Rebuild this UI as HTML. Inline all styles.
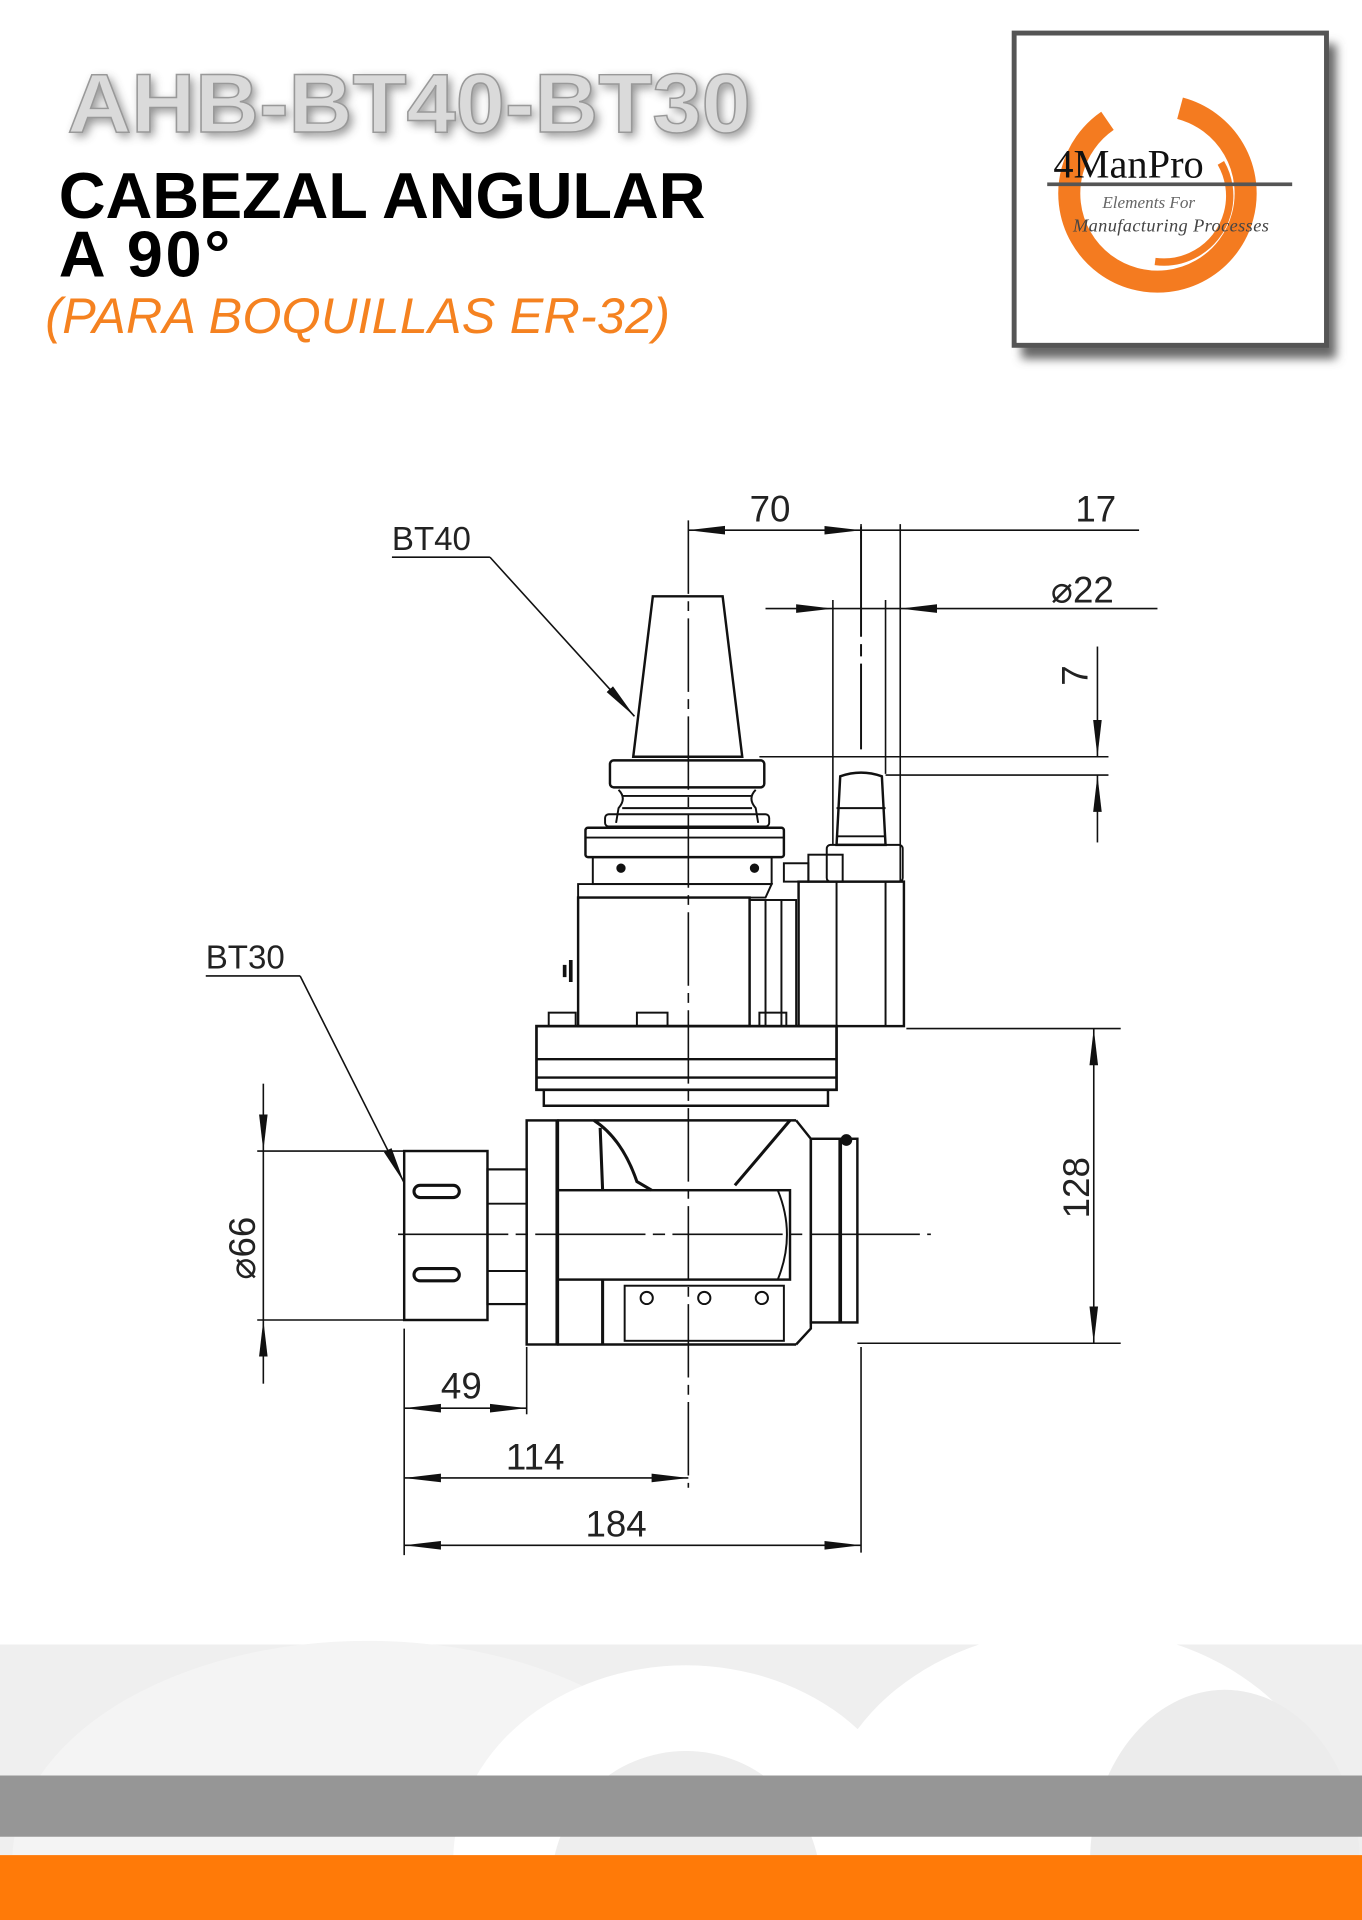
<!DOCTYPE html>
<html><head><meta charset="utf-8"><style>
html,body{margin:0;padding:0;background:#fff;width:1362px;height:1920px;overflow:hidden;}
svg{display:block;}
</style></head><body>
<svg width="1362" height="1920" viewBox="0 0 1112 1568" preserveAspectRatio="none" xmlns="http://www.w3.org/2000/svg">
<defs>
<marker id="b" viewBox="0 0 30 10" refX="30" refY="5" markerWidth="30" markerHeight="10" markerUnits="userSpaceOnUse" orient="auto-start-reverse"><path d="M0,1.5 L30,5 L0,8.5 z" fill="#111"/></marker>
<filter id="sh" x="-10%" y="-10%" width="130%" height="130%"><feGaussianBlur stdDeviation="4"/></filter>
</defs>
<rect width="1112" height="1568" fill="#fff"/>
<text x="58" y="111" font-family="Liberation Sans" font-weight="bold" font-size="68" textLength="558" lengthAdjust="spacingAndGlyphs" fill="#444" opacity="0.6" filter="url(#sh)">AHB-BT40-BT30</text>
<text x="55" y="108" font-family="Liberation Sans" font-weight="bold" font-size="68" textLength="558" lengthAdjust="spacingAndGlyphs" fill="#dadada" stroke="#999" stroke-width="1.2">AHB-BT40-BT30</text>
<text x="48" y="178" font-family="Liberation Sans" font-weight="bold" font-size="53" textLength="528" fill="#000">CABEZAL ANGULAR</text>
<text x="48" y="226" font-family="Liberation Sans" font-weight="bold" font-size="53" textLength="140" fill="#000">A 90°</text>
<text x="37" y="272" font-family="Liberation Sans" font-style="italic" font-size="41" textLength="510" fill="#f58220">(PARA BOQUILLAS ER-32)</text>
<rect x="834" y="36" width="257" height="257" fill="#666" filter="url(#sh)"/>
<rect x="828" y="27" width="255" height="255" fill="#fff" stroke="#555" stroke-width="4"/>
<circle cx="945" cy="158" r="72" fill="none" stroke="#f47b20" stroke-width="18" stroke-dasharray="390 62" transform="rotate(-75 945 158)"/>
<circle cx="950" cy="160" r="54" fill="none" stroke="#f47b20" stroke-width="6" stroke-dasharray="120 300" transform="rotate(-30 950 160)"/>
<text x="860" y="145" font-family="Liberation Serif" font-size="33" fill="#111">4ManPro</text>
<rect x="855" y="149" width="200" height="3" fill="#555"/>
<text x="900" y="170" font-family="Liberation Serif" font-style="italic" font-size="14" fill="#666">Elements For</text>
<text x="876" y="189" font-family="Liberation Serif" font-style="italic" font-size="15" fill="#444" textLength="160">Manufacturing Processes</text>
<g fill="none" stroke="#111" stroke-width="1.6">
<line x1="562" y1="425" x2="562" y2="1215" stroke-dasharray="60 6 8 6" stroke-width="1.3"/>
<line x1="325" y1="1008" x2="760" y2="1008" stroke-dasharray="90 6 10 6" stroke-width="1.3"/>
<line x1="703" y1="430" x2="703" y2="612" stroke-dasharray="90 6 10 6"/>
<path d="M533,487 L590,487 L606,618 L517,618 Z" stroke-width="2"/>
<rect x="498" y="621" width="126" height="22" rx="3" stroke-width="2"/>
<path d="M505,645 Q512,652 505,660 L503,672 M617,645 Q610,652 617,660 L619,672 M508,650 H614 M508,660 H614" />
<rect x="494" y="665" width="134" height="10" rx="3"/>
<rect x="478" y="676" width="162" height="24" rx="2" stroke-width="2"/>
<line x1="478" y1="684" x2="640" y2="684"/>
<rect x="484" y="700" width="146" height="22"/>
<circle cx="507" cy="709" r="3" fill="#111"/><circle cx="616" cy="709" r="3" fill="#111"/>
<path d="M472,722 H630 L625,733 H472 Z"/>
<rect x="472" y="733" width="140" height="105" stroke-width="2"/>
<path d="M461,788 v10 M466,784 v18" stroke-width="3"/>
<rect x="612" y="735" width="38" height="103"/>
<line x1="625" y1="735" x2="625" y2="838"/><line x1="638" y1="735" x2="638" y2="838"/>
<rect x="652" y="720" width="86" height="118" stroke-width="2"/>
<line x1="683" y1="720" x2="683" y2="838"/><line x1="723" y1="720" x2="723" y2="838"/>
<rect x="640" y="705" width="20" height="15"/>
<rect x="660" y="698" width="28" height="22"/>
<path d="M683,690 L686,634 Q703,628 720,634 L723,690 Z" stroke-width="2"/>
<line x1="683" y1="660" x2="723" y2="660"/><line x1="683" y1="683" x2="723" y2="683"/>
<rect x="675" y="690" width="62" height="30" rx="3"/>
<rect x="448" y="827" width="22" height="11"/><rect x="520" y="827" width="25" height="11"/><rect x="620" y="827" width="22" height="11"/>
<rect x="438" y="838" width="245" height="52" stroke-width="2.2"/>
<line x1="438" y1="865" x2="683" y2="865" stroke-width="2"/>
<line x1="438" y1="880" x2="683" y2="880" stroke-width="2"/>
<path d="M444,890 V903 H676 V890" stroke-width="2"/>
<rect x="430" y="915" width="25" height="183" stroke-width="2"/>
<line x1="455" y1="915" x2="455" y2="1098" stroke-width="3"/>
<path d="M455,915 H650 M455,1098 H650" stroke-width="2"/>
<path d="M485,915 Q508,930 520,965 L532,972 M645,915 L600,968 M490,921 L492,972" stroke-width="2.5"/>
<rect x="455" y="972" width="190" height="73" stroke-width="2"/>
<path d="M635,972 Q650,1008 635,1045"/>
<line x1="492" y1="1045" x2="492" y2="1098" stroke-width="2.5"/>
<rect x="510" y="1050" width="130" height="45"/>
<circle cx="528" cy="1060" r="5"/><circle cx="575" cy="1060" r="5"/><circle cx="622" cy="1060" r="5"/>
<path d="M650,915 L662,930 V1085 L650,1098" stroke-width="2"/>
<rect x="662" y="930" width="38" height="150" stroke-width="2"/>
<line x1="686" y1="930" x2="686" y2="1080" stroke-width="3"/>
<circle cx="691" cy="931" r="4" fill="#111"/>
<rect x="330" y="940" width="68" height="138" stroke-width="2"/>
<rect x="338" y="968" width="37" height="10" rx="5" stroke-width="2.5"/>
<rect x="338" y="1036" width="37" height="10" rx="5" stroke-width="2.5"/>
<rect x="398" y="955" width="32" height="110" stroke-width="1.8"/>
<line x1="398" y1="983" x2="430" y2="983"/><line x1="398" y1="1038" x2="430" y2="1038"/>
</g>
<g stroke="#111" stroke-width="1.3" fill="none">
<line x1="562" y1="433" x2="703" y2="433" marker-start="url(#b)" marker-end="url(#b)"/>
<line x1="703" y1="433" x2="930" y2="433"/>
<line x1="735" y1="428" x2="735" y2="720"/>
<line x1="703" y1="428" x2="703" y2="440"/>
<line x1="625" y1="497" x2="680" y2="497" marker-end="url(#b)"/>
<line x1="680" y1="497" x2="735" y2="497"/>
<line x1="945" y1="497" x2="735" y2="497" marker-end="url(#b)"/>
<line x1="680" y1="490" x2="680" y2="690"/>
<line x1="723" y1="490" x2="723" y2="632"/>
<line x1="620" y1="618" x2="905" y2="618"/>
<line x1="723" y1="633" x2="905" y2="633"/>
<line x1="896" y1="528" x2="896" y2="618" marker-end="url(#b)"/>
<line x1="896" y1="688" x2="896" y2="633" marker-end="url(#b)"/>
<line x1="320" y1="455" x2="400" y2="455"/>
<line x1="400" y1="455" x2="518" y2="585" marker-end="url(#b)"/>
<line x1="168" y1="797" x2="245" y2="797"/>
<line x1="245" y1="797" x2="330" y2="966" marker-end="url(#b)"/>
<line x1="210" y1="940" x2="330" y2="940"/>
<line x1="210" y1="1078" x2="330" y2="1078"/>
<line x1="215" y1="885" x2="215" y2="940" marker-end="url(#b)"/>
<line x1="215" y1="940" x2="215" y2="1078"/>
<line x1="215" y1="1130" x2="215" y2="1078" marker-end="url(#b)"/>
<line x1="740" y1="840" x2="915" y2="840"/>
<line x1="700" y1="1097" x2="915" y2="1097"/>
<line x1="893" y1="840" x2="893" y2="1097" marker-start="url(#b)" marker-end="url(#b)"/>
<line x1="330" y1="1085" x2="330" y2="1270"/>
<line x1="430" y1="1100" x2="430" y2="1155"/>
<line x1="703" y1="1100" x2="703" y2="1268"/>
<line x1="330" y1="1150" x2="430" y2="1150" marker-start="url(#b)" marker-end="url(#b)"/>
<line x1="330" y1="1207" x2="562" y2="1207" marker-start="url(#b)" marker-end="url(#b)"/>
<line x1="330" y1="1262" x2="703" y2="1262" marker-start="url(#b)" marker-end="url(#b)"/>
</g>
<g font-family="Liberation Sans" font-size="30" fill="#222">
<text x="612" y="426">70</text>
<text x="878" y="426">17</text>
<text x="858" y="492">⌀22</text>
<text x="320" y="449" font-size="27">BT40</text>
<text x="168" y="791" font-size="27">BT30</text>
<text transform="translate(888,560) rotate(-90)">7</text>
<text transform="translate(889,995) rotate(-90)">128</text>
<text transform="translate(208,1045) rotate(-90)">⌀66</text>
<text x="360" y="1142">49</text>
<text x="413" y="1200">114</text>
<text x="478" y="1255">184</text>
</g>
<rect x="0" y="1343" width="1112" height="172" fill="#efefef"/>
<ellipse cx="300" cy="1520" rx="290" ry="180" fill="#f4f4f4"/>
<ellipse cx="560" cy="1520" rx="190" ry="160" fill="#fff"/>
<ellipse cx="560" cy="1540" rx="110" ry="110" fill="#eee"/>
<ellipse cx="880" cy="1500" rx="210" ry="170" fill="#fff"/>
<ellipse cx="1000" cy="1520" rx="110" ry="140" fill="#ececec"/>
<rect x="0" y="1450" width="1112" height="50" fill="#969696"/>
<rect x="0" y="1515" width="1112" height="53" fill="#ff7a08"/>
</svg>
</body></html>
